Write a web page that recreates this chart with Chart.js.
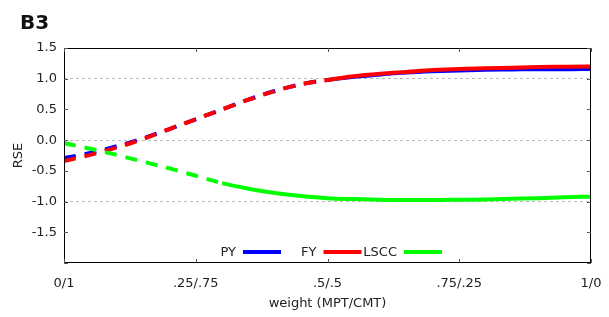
<!DOCTYPE html>
<html>
<head>
<meta charset="utf-8">
<script src="https://cdn.jsdelivr.net/npm/chart.js@4"></script>
<style>
  html, body { margin: 0; padding: 0; background: #fff; }
  #wrap { width: 609px; height: 317px; }
</style>
</head>
<body>
<div id="wrap"><canvas id="rseChart" width="609" height="317"></canvas></div>
<script>
// weight MPT/CMT, 0 -> 1
const weights = [0, 0.05, 0.1, 0.15, 0.2, 0.25, 0.3, 0.35, 0.4, 0.45, 0.5,
                 0.55, 0.6, 0.65, 0.7, 0.75, 0.8, 0.85, 0.9, 0.95, 1];
const pyValues = [-0.29, -0.21, -0.10, 0.03, 0.18, 0.34, 0.50, 0.66, 0.80, 0.91, 0.98,
                  1.03, 1.07, 1.10, 1.12, 1.135, 1.145, 1.15, 1.155, 1.155, 1.16];
const fyValues = [-0.34, -0.24, -0.12, 0.02, 0.18, 0.34, 0.50, 0.66, 0.80, 0.91, 0.98,
                  1.04, 1.08, 1.11, 1.14, 1.16, 1.17, 1.18, 1.19, 1.195, 1.20];
const lsccValues = [-0.05, -0.14, -0.24, -0.35, -0.46, -0.58, -0.70, -0.79, -0.86, -0.91, -0.945,
                    -0.96, -0.97, -0.975, -0.975, -0.97, -0.965, -0.955, -0.945, -0.93, -0.92];
const seriesNames = ["PY", "FY", "LSCC"];
const xTickLabels = ["0/1", ".25/.75", ".5/.5", ".75/.25", "1/0"];
// dashed part of each curve ends at this weight
const dashUntil = [0.5, 0.5, 0.3];

const colors = ["#0000ff", "#ff0000", "#00ff00"];
const FONT = "'DejaVu Sans', Verdana, sans-serif";

function makeSet(i, values, order) {
    return {
        label: seriesNames[i],
        data: weights.map((w, k) => ({ x: w, y: values[k] })),
        borderColor: colors[i],
        borderWidth: 4,
        pointRadius: 0,
        fill: false,
        cubicInterpolationMode: 'monotone',
        order: order,
        segment: {
            borderDash: ctx => ctx.p1.parsed.x <= dashUntil[i] + 1e-9 ? [12, 9] : undefined
        }
    };
}

// frame, inward ticks, legend and panel label, gnuplot style
const gnuplotBits = {
    id: 'gnuplotBits',
    afterDraw(chart) {
        const { ctx, chartArea: a, scales } = chart;
        ctx.save();
        ctx.strokeStyle = '#000';
        ctx.lineWidth = 1;
        ctx.strokeRect(a.left + 0.5, a.top + 0.5, a.right - a.left - 1, a.bottom - a.top - 1);

        ctx.strokeStyle = '#555';
        scales.y.ticks.forEach(t => {
            const y = Math.round(scales.y.getPixelForValue(t.value)) + 0.5;
            ctx.beginPath();
            ctx.moveTo(a.left, y); ctx.lineTo(a.left + 4, y);
            ctx.moveTo(a.right, y); ctx.lineTo(a.right - 4, y);
            ctx.stroke();
        });
        scales.x.ticks.forEach(t => {
            const x = Math.round(scales.x.getPixelForValue(t.value)) + 0.5;
            ctx.beginPath();
            ctx.moveTo(x, a.bottom); ctx.lineTo(x, a.bottom - 4);
            ctx.moveTo(x, a.top); ctx.lineTo(x, a.top + 4);
            ctx.stroke();
        });

        // legend: text then sample line
        const legY = a.bottom - 11;
        ctx.font = '13px ' + FONT;
        ctx.textBaseline = 'middle';
        ctx.textAlign = 'right';
        seriesNames.forEach((name, i) => {
            const x0 = 243 + 80.5 * i;
            ctx.fillStyle = '#222';
            ctx.fillText(name, x0 - 7, legY + 1);
            ctx.strokeStyle = colors[i];
            ctx.lineWidth = 4;
            ctx.beginPath();
            ctx.moveTo(x0, legY); ctx.lineTo(x0 + 38, legY);
            ctx.stroke();
        });

        ctx.font = 'bold 20px ' + FONT;
        ctx.textAlign = 'left';
        ctx.textBaseline = 'alphabetic';
        ctx.fillStyle = '#111';
        ctx.fillText('B3', 20, 29);
        ctx.restore();
    }
};

new Chart(document.getElementById('rseChart'), {
    type: 'line',
    data: {
        datasets: [
            makeSet(0, pyValues, 3),
            makeSet(1, fyValues, 2),
            makeSet(2, lsccValues, 1)
        ]
    },
    options: {
        responsive: false,
        animation: false,
        layout: { padding: { left: 0, right: 18, top: 48, bottom: 0 } },
        plugins: {
            legend: { display: false },
            tooltip: { enabled: false }
        },
        scales: {
            x: {
                type: 'linear',
                min: 0,
                max: 1,
                ticks: {
                    stepSize: 0.25,
                    padding: 13,
                    color: '#222',
                    font: { family: FONT, size: 13 },
                    maxRotation: 0,
                    callback: (v) => xTickLabels[Math.round(v * 4)]
                },
                grid: { display: false, drawTicks: false },
                border: { display: false },
                title: {
                    display: true,
                    text: 'weight (MPT/CMT)',
                    color: '#222',
                    font: { family: FONT, size: 13 },
                    padding: { top: 0, bottom: 6 }
                },
                afterFit: s => { s.height = 54; s.paddingLeft = 0; s.paddingRight = 0; }
            },
            y: {
                min: -2,
                max: 1.5,
                ticks: {
                    stepSize: 0.5,
                    padding: 7,
                    color: '#222',
                    font: { family: FONT, size: 13 },
                    callback: v => v === -2 ? '' : v.toFixed(1)
                },
                grid: {
                    drawTicks: false,
                    color: c => [-1, 0, 1].includes(c.tick.value) ? '#bbb' : 'rgba(0,0,0,0)'
                },
                border: { display: false, dash: [3, 3] },
                title: {
                    display: true,
                    text: 'RSE',
                    color: '#222',
                    font: { family: FONT, size: 13 },
                    padding: { top: 11, bottom: 0 }
                },
                afterFit: s => { s.width = 64; s.paddingTop = 0; s.paddingBottom = 0; }
            }
        }
    },
    plugins: [gnuplotBits]
});
</script>
</body>
</html>
